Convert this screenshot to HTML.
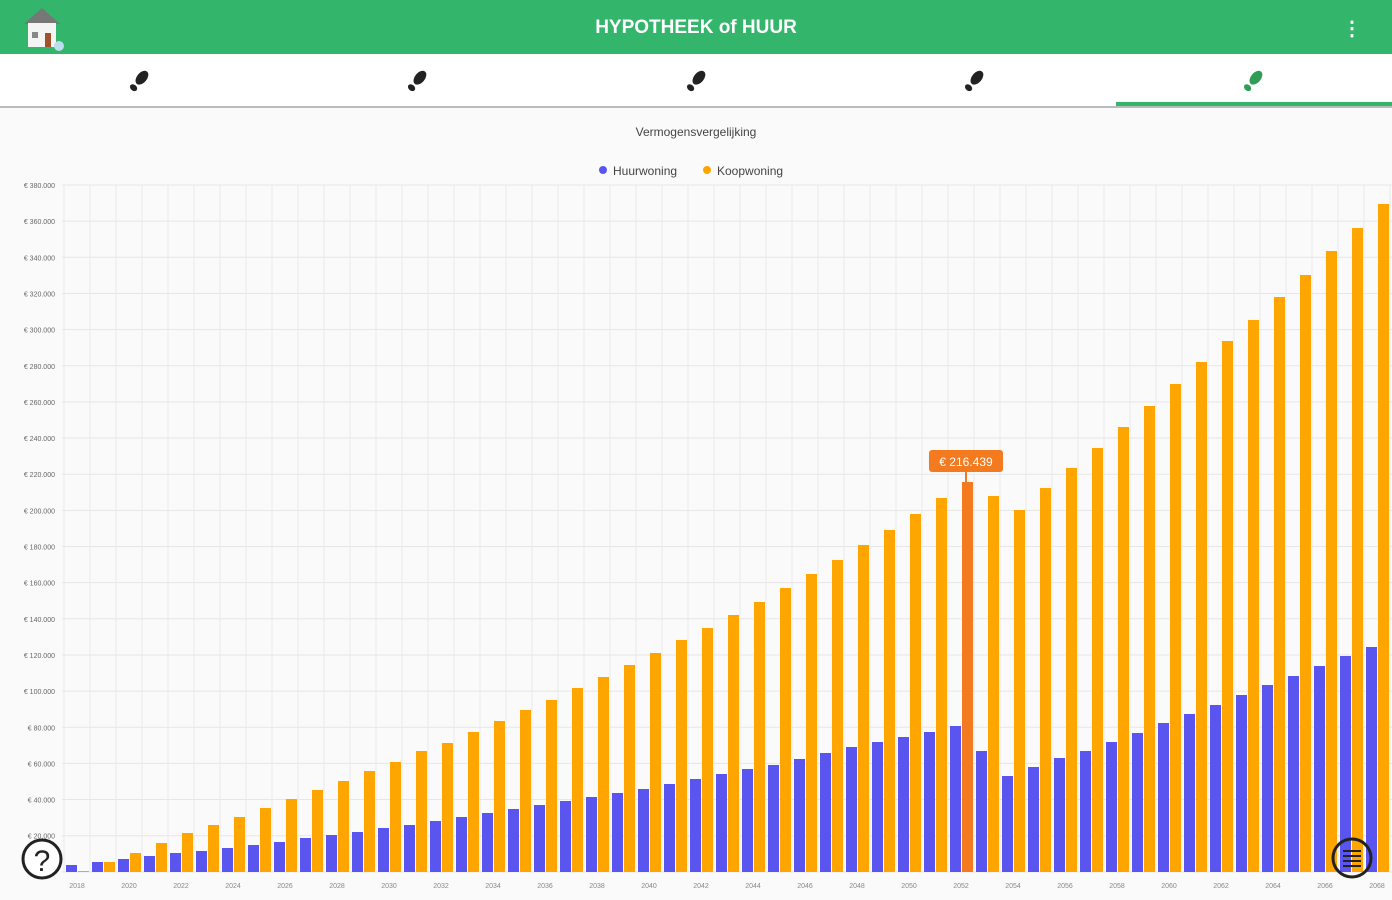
<!DOCTYPE html><html><head><meta charset="utf-8"><style>
body{margin:0;width:1392px;height:900px;overflow:hidden;background:#fff;font-family:"Liberation Sans",sans-serif}
.hdr{position:absolute;left:0;top:0;width:1392px;height:54px;background:#33b56b}
.hdr .t{position:absolute;left:0;width:1392px;top:17px;text-align:center;color:#fff;font-weight:bold;font-size:19px}
.tabs{position:absolute;top:54px;left:0;width:1392px;height:52px;background:#fff;border-bottom:2px solid #bbb}
</style></head><body>
<div class="hdr"><div class="t">HYPOTHEEK of HUUR</div>
<div style="position:absolute;left:22px;top:6px;width:36px;height:40px">
<svg width="44" height="48"><polygon points="2,18 20,2 38,18" fill="#777"/><rect x="6" y="17" width="28" height="24" fill="#f4f4f4"/><rect x="23" y="27" width="6" height="14" fill="#a0522d"/><rect x="10" y="26" width="6" height="6" fill="#888"/><circle cx="37" cy="40" r="5" fill="#bde"/></svg></div>
<div style="position:absolute;right:30px;top:16px;color:#fff;font-size:20px;font-weight:bold">⋮</div></div>
<div class="tabs">
<div style="position:absolute;left:1116px;top:48px;width:276px;height:4px;background:#33b56b"></div>
</div>
<svg id="c" width="1392" height="792" style="position:absolute;left:0;top:108px"></svg>
<script>
var s='';
function r(x,y,w,h,f){s+='<rect x="'+x+'" y="'+y+'" width="'+w+'" height="'+h+'" fill="'+f+'"/>';}
function t(x,y,tx,sz,f,a){s+='<text x="'+x+'" y="'+y+'" font-size="'+sz+'" fill="'+f+'" text-anchor="'+(a||'start')+'">'+tx+'</text>';}
r(0,0,1392,792,'#fafafa');
// icons in tabs
var tabs=[140,418,697,975,1254];
var svg2='';
tabs.forEach(function(x,i){svg2+='<g transform="translate('+x+',82) rotate(40)"><ellipse cx="0" cy="-4" rx="5" ry="8" fill="'+(i==4?'#2e9e55':'#222')+'"/><ellipse cx="0" cy="9" rx="4" ry="3" fill="'+(i==4?'#2e9e55':'#222')+'"/></g>';});
var Y=function(y){return y-108;};
// grid
for(var i=0;i<=19;i++){var yy=185+i*36.15;s+='<line x1="62" x2="1392" y1="'+Y(yy)+'" y2="'+Y(yy)+'" stroke="#e6e6e6"/>';
var v=380000-i*20000;t(55,Y(yy)+3,'€ '+v.toLocaleString('de-DE'),7,'#666','end');}
for(var i=0;i<=51;i++){var xx=77+26*i-13;s+='<line x1="'+xx+'" x2="'+xx+'" y1="'+Y(185)+'" y2="'+Y(872)+'" stroke="#e9e9e9"/>';}
var o=[871,862,853,843,833,825,817,808,799,790,781,771,762,751,743,732,721,710,700,688,677,665,653,640,628,615,602,588,574,560,545,530,514,498,482,496,510,488,468,448,427,406,384,362,341,320,297,275,251,228,204];
var b=[865,862,859,856,853,851,848,845,842,838,835,832,828,825,821,817,813,809,805,801,797,793,789,784,779,774,769,765,759,753,747,742,737,732,726,751,776,767,758,751,742,733,723,714,705,695,685,676,666,656,647];
for(var i=0;i<51;i++){var c=77+26*i-10;
r(c-1,Y(b[i]),11,872-b[i],'#5b55f0');
r(c+11,Y(o[i]),11,872-o[i],i==34?'#f47a1f':'#ffa500');
if(i%2==0)t(77+26*i,Y(888),String(2018+i),7,'#888','middle');}
s+='<line x1="966" x2="966" y1="'+Y(472)+'" y2="'+Y(872)+'" stroke="#f47a1f" stroke-width="2"/>';
s+='<rect x="929" y="'+Y(450)+'" width="74" height="22" rx="3" fill="#f47a1f"/>';
t(966,Y(466),'€ 216.439',12,'#fff','middle');
t(696,Y(136),'Vermogensvergelijking',12,'#444','middle');
s+='<circle cx="603" cy="'+Y(170)+'" r="4" fill="#5b55f0"/><circle cx="707" cy="'+Y(170)+'" r="4" fill="#ffa500"/>';
t(613,Y(175),'Huurwoning',12,'#444');t(717,Y(175),'Koopwoning',12,'#444');
s+='<circle cx="42" cy="'+Y(859)+'" r="19" fill="#fff" stroke="#222" stroke-width="3"/>';t(42,Y(871),'?',30,'#222','middle');
s+='<circle cx="1352" cy="'+Y(858)+'" r="19" fill="none" stroke="#222" stroke-width="3"/>';
for(var k=0;k<4;k++)s+='<line x1="1343" x2="1361" y1="'+Y(851+k*5)+'" y2="'+Y(851+k*5)+'" stroke="#222" stroke-width="2"/>';
document.getElementById('c').innerHTML=s;
var ts=document.createElementNS('http://www.w3.org/2000/svg','svg');
</script>
<svg width="1392" height="54" style="position:absolute;left:0;top:54px" viewBox="0 54 1392 54">
<g fill="#222"><g transform="translate(140,80) rotate(40)"><ellipse cx="0" cy="-3" rx="5" ry="8"/><ellipse cx="0" cy="10" rx="4" ry="3"/></g>
<g transform="translate(418,80) rotate(40)"><ellipse cx="0" cy="-3" rx="5" ry="8"/><ellipse cx="0" cy="10" rx="4" ry="3"/></g>
<g transform="translate(697,80) rotate(40)"><ellipse cx="0" cy="-3" rx="5" ry="8"/><ellipse cx="0" cy="10" rx="4" ry="3"/></g>
<g transform="translate(975,80) rotate(40)"><ellipse cx="0" cy="-3" rx="5" ry="8"/><ellipse cx="0" cy="10" rx="4" ry="3"/></g></g>
<g fill="#2e9e55" transform="translate(1254,80) rotate(40)"><ellipse cx="0" cy="-3" rx="5" ry="8"/><ellipse cx="0" cy="10" rx="4" ry="3"/></g>
</svg>
</body></html>
